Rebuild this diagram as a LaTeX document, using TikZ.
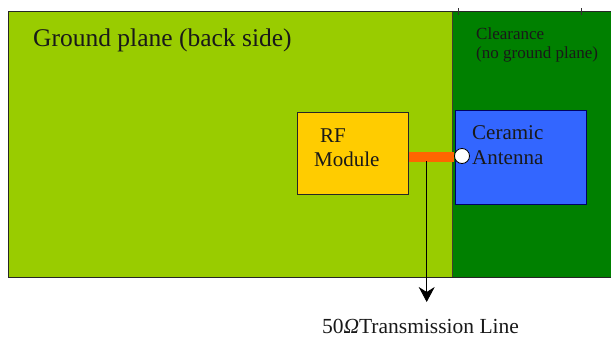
\documentclass[tikz,border=0pt]{standalone}
\usepackage{fontspec}
\setmainfont{Liberation Serif}
\usetikzlibrary{arrows.meta}
\definecolor{gndgreen}{HTML}{99CC00}
\definecolor{clrgreen}{HTML}{008000}
\definecolor{modyellow}{HTML}{FFCC00}
\definecolor{antblue}{HTML}{3366FF}
\definecolor{lineorange}{HTML}{FF6600}
\begin{document}
\begin{tikzpicture}[x=1pt,y=-1pt,
  edge/.style={draw=black!85,line width=0.9pt},
  lbl/.style={inner sep=0pt,anchor=base west,text=black!90,font=\rmfamily}]
\useasboundingbox (0,0) rectangle (611,338);
% regions
\fill[gndgreen] (8,11) rectangle (452,277);
\fill[clrgreen] (452,11) rectangle (611,277);
\draw[draw=black!70!olive,line width=0.8pt] (452,11) -- (452,277);
\draw[edge] (611,11) -- (8,11) -- (8,277) -- (611,277);
\draw[black!80,line width=0.6pt] (458,8) -- (458,15) (581,8) -- (581,15);
% texts
\node[lbl] (gp) at (33,46) {\fontsize{25.5}{28}\selectfont Ground plane (back side)};
\node[lbl,align=left,anchor=north west,font=\rmfamily\fontsize{17}{19}\selectfont] (clr) at (476,28) {Clearance\\(no ground plane)};
% RF module
\node[draw=black!85,line width=0.9pt,fill=modyellow,minimum width=111pt,minimum height=82pt,inner sep=0pt,anchor=north west] (rf) at (297,112) {};
\node[lbl] (rft) at (314,142) {\fontsize{21}{25}\selectfont\hspace*{6pt}RF};
\node[lbl] (rfm) at (314,166) {\fontsize{21}{25}\selectfont Module};
% antenna
\node[draw=blue!40!black,line width=0.9pt,fill=antblue,minimum width=131pt,minimum height=94pt,inner sep=0pt,anchor=north west] (ant) at (455,110) {};
\node[lbl] (antc) at (472,139) {\fontsize{21}{25}\selectfont Ceramic};
\node[lbl] (anta) at (472,164) {\fontsize{21}{25}\selectfont Antenna};
% transmission line
\coordinate (tlA) at (409,156.5);
\coordinate (tlB) at (454,156.5);
\draw[lineorange,line width=10pt] (tlA) -- (tlB);
\node[circle,draw=black,line width=0.8pt,fill=white,minimum size=15pt,inner sep=0pt] (feed) at (462,156) {};
\coordinate (tap) at (426.7,161);
\coordinate (tip) at (426.7,302);
\draw[black,line width=0.9pt,-{Stealth[length=15pt,width=16pt,inset=5pt]}] (tap) -- (tip);
\node[lbl,anchor=base] (tlt) at (420.5,333) {\fontsize{21.5}{24}\selectfont 50{\itshape Ω}Transmission Line};
\end{tikzpicture}
\end{document}
